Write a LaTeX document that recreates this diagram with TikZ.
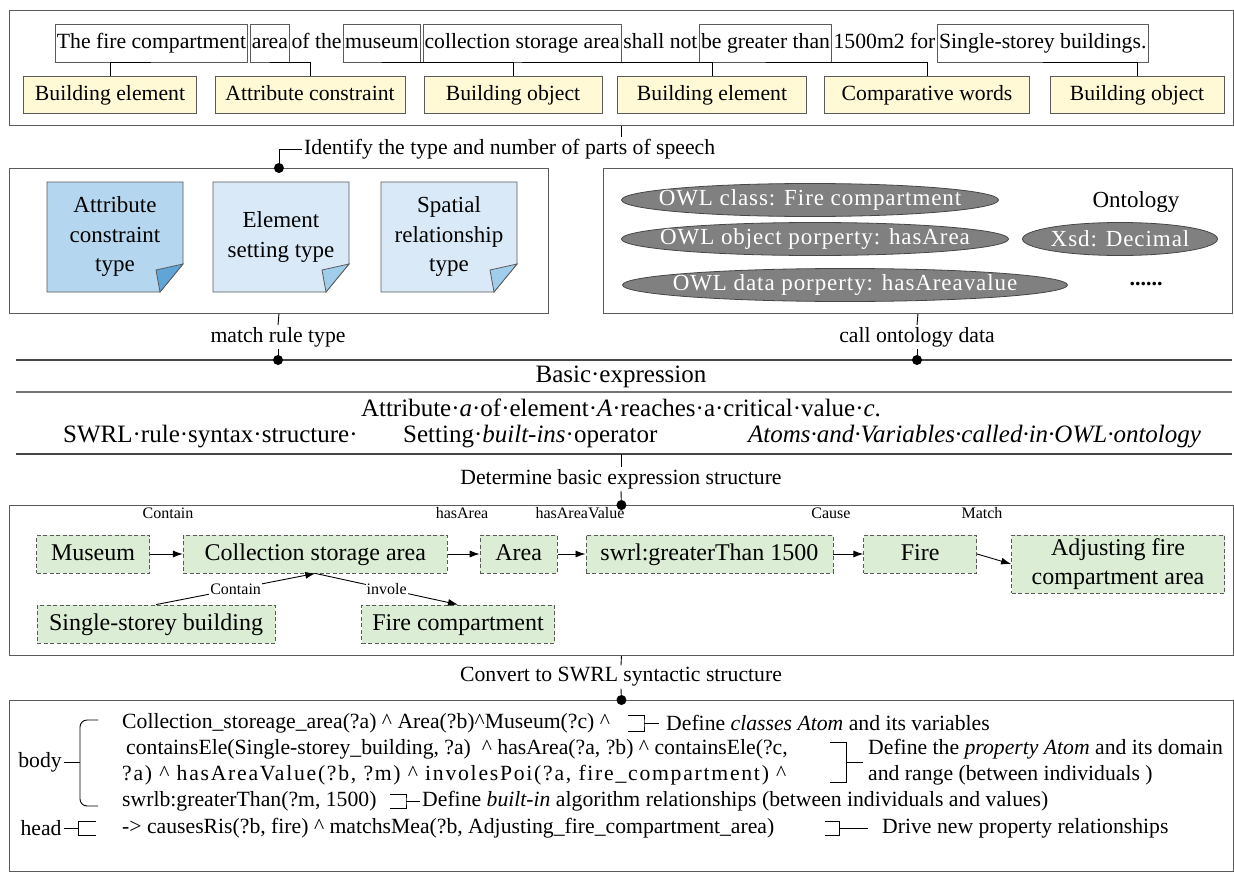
\documentclass[tikz,border=0pt]{standalone}
\usepackage{fontspec}
\setmainfont{Liberation Serif}
\newfontfamily\wideserif[LetterSpace=8]{Liberation Serif}
\newfontfamily\owlserif[LetterSpace=4]{Liberation Serif}
\usetikzlibrary{arrows.meta,shapes,positioning}

\definecolor{framegray}{RGB}{90,90,90}
\definecolor{tagyellow}{RGB}{255,249,214}
\definecolor{notedark}{RGB}{180,214,238}
\definecolor{flapdark}{RGB}{95,165,215}
\definecolor{notelight}{RGB}{218,233,247}
\definecolor{flaplight}{RGB}{160,205,236}
\definecolor{owlgray}{RGB}{128,128,128}
\definecolor{relgreen}{RGB}{219,237,213}
\definecolor{rulegray}{RGB}{70,70,70}

\newcommand{\andsym}{\textasciicircum}
\newcommand{\typenote}[5]{%
  \draw[noteline, fill=#3] (#2,182) -- ++(136,0) -- ++(0,82) -- ++(-23,28) -- ++(-113,0) -- cycle;
  \draw[noteline, fill=#4] (#2+136,264) -- (#2+113,292) -- (#2+109,270) -- cycle;
  \node[notetxt] (#1) at (#2+68,237) {#5};}

\tikzset{
  txt/.style={font=\fontsize{21.7}{26}\selectfont, inner sep=2pt},
  secbox/.style={draw=framegray, line width=0.9pt, inner sep=0pt},
  word/.style={txt, draw=framegray, line width=0.8pt, inner xsep=1.5pt, inner ysep=8.5pt, text height=16pt, text depth=5pt},
  bare/.style={txt, inner xsep=1.5pt, inner ysep=8.5pt, text height=16pt, text depth=5pt},
  postag/.style={txt, draw=framegray, line width=0.8pt, fill=tagyellow, minimum height=37pt, inner xsep=0pt, text height=16pt, text depth=5pt},
  link/.style={line width=0.9pt},
  bullet/.style={fill=black},
  noteline/.style={draw=framegray, line width=0.8pt},
  notetxt/.style={font=\fontsize{23}{29.5}\selectfont, align=center},
  owl/.style={ellipse, draw=rulegray, line width=0.8pt, fill=owlgray, text=white, minimum height=33pt, inner sep=0pt, font=\owlserif\fontsize{23}{27}\selectfont},
  thickrule/.style={line width=2.6pt, draw=rulegray},
  thinrule/.style={line width=1.4pt, draw=rulegray!75},
  tbl/.style={font=\fontsize{25}{30}\selectfont, inner sep=1pt},
  rel/.style={draw=framegray, dash pattern=on 4pt off 2.5pt, line width=0.8pt, fill=relgreen, font=\fontsize{24}{29}\selectfont, minimum height=38pt, align=center, inner xsep=0pt},
  relone/.style={rel, text height=17pt, text depth=5pt},
  edgelbl/.style={font=\fontsize{16}{18}\selectfont, inner sep=1pt},
  flow/.style={line width=0.9pt, -{Latex[length=10pt,width=7pt]}},
  code/.style={txt, anchor=west},
  brk/.style={line width=0.9pt},
}

\begin{document}
\begin{tikzpicture}[x=1pt,y=-1pt]
\useasboundingbox (0,0) rectangle (1234,872);
\fill[white] (0,0) rectangle (1234,872);

\node[secbox, minimum width=1224pt, minimum height=115pt, anchor=north west] (sentbox) at (9,10) {};
\node[word, anchor=west] (w1) at (55,43) {The fire compartment};
\node[word, right=2pt of w1] (w2) {area};
\node[bare, right=0pt of w2] (w3) {of the};
\node[word, right=0pt of w3] (w4) {museum};
\node[word, right=2pt of w4] (w5) {collection storage area};
\node[bare, right=0pt of w5] (w6) {shall not};
\node[word, right=0pt of w6] (w7) {be greater than};
\node[bare, right=0pt of w7] (w8) {1500m2 for};
\node[word, right=0pt of w8] (w9) {Single-storey buildings.};

\node[postag, minimum width=173pt] (t1) at (110,95) {Building element};
\node[postag, minimum width=190pt] (t2) at (310,95) {Attribute constraint};
\node[postag, minimum width=178pt] (t3) at (513,95) {Building object};
\node[postag, minimum width=189pt] (t4) at (712,95) {Building element};
\node[postag, minimum width=205pt] (t5) at (927,95) {Comparative words};
\node[postag, minimum width=174pt] (t6) at (1137,95) {Building object};
\draw[link] (w1.south) -| (t1.north);
\draw[link] (w2.south) -| (t2.north);
\draw[link] (w4.south) -| (t3.north);
\draw[link] (w5.south) -| (t4.north);
\draw[link] (w7.south) -| (t5.north);
\draw[link] (w9.south) -| (t6.north);

\node[txt, anchor=west] (identify) at (302,149) {Identify the type and number of parts of speech};
\node[secbox, minimum width=539pt, minimum height=145pt, anchor=north west] (typebox) at (9,168) {};
\node[secbox, minimum width=629pt, minimum height=145pt, anchor=north west] (ontobox) at (603,168) {};
\draw[link] (sentbox.south) -- (sentbox.south |- identify.north);
\draw[link] (identify.west) -| (typebox.north);
\fill[bullet] (typebox.north) circle (5pt);

\typenote{attrtype}{47}{notedark}{flapdark}{Attribute\\constraint\\type}
\typenote{elemtype}{213}{notelight}{flaplight}{Element\\setting type}
\typenote{spattype}{381}{notelight}{flaplight}{Spatial\\relationship\\type}

\node[owl, minimum width=377pt] (owlclass) at (810,200) {\makebox[0pt]{OWL class: Fire compartment}};
\node[owl, minimum width=387pt] (owlobj) at (815,239) {\makebox[0pt]{OWL object porperty: hasArea}};
\node[owl, minimum width=445pt] (owldata) at (845,285) {\makebox[0pt]{OWL data porperty: hasAreavalue}};
\node[owl, minimum width=195pt] (xsd) at (1120,239) {\makebox[0pt]{Xsd: Decimal}};
\node[font=\fontsize{23}{27}\selectfont] (onto) at (1136,202) {Ontology};
\node[font=\fontsize{22}{26}\selectfont\bfseries] (more) at (1146,284) {......};

\node[txt] (matchtxt) at (278,337) {match rule type};
\node[txt] (calltxt) at (917,337) {call ontology data};
\draw[link] (typebox.south) -- (matchtxt.north);
\draw[link] (ontobox.south) -- (calltxt.north);

\draw[thickrule] (16,360) coordinate (rtop) -- (1232,360);
\draw[thinrule] (16,392) -- (1232,392);
\draw[thickrule] (16,454) coordinate (rbot) -- (1232,454);
\draw[link] (matchtxt.south) -- (matchtxt.south |- rtop);
\draw[link] (calltxt.south) -- (calltxt.south |- rtop);
\fill[bullet] (matchtxt.south |- rtop) circle (5pt);
\fill[bullet] (calltxt.south |- rtop) circle (5pt);
\node[tbl] (basic) at (621,377) {Basic·expression};
\node[tbl] (attr) at (621,408) {Attribute·\textit{a}·of·element·\textit{A}·reaches·a·critical·value·\textit{c}.};
\node[tbl, anchor=west] (swrl) at (62,437) {SWRL·rule·syntax·structure·};
\node[tbl, anchor=west] (setting) at (402,437) {Setting·\textit{built-ins}·operator};
\node[tbl, anchor=west] (atoms) at (747,437) {\textit{Atoms·and·Variables·called·in·OWL·ontology}};

\node[txt] (determine) at (621,479) {Determine basic expression structure};
\node[secbox, minimum width=1224pt, minimum height=150pt, anchor=north west] (relbox) at (9,505) {};
\draw[link] (rbot -| determine) -- (determine.north);
\draw[link] (determine.south) -- (relbox.north);
\fill[bullet] (relbox.north) circle (5pt);

\node[relone, minimum width=113pt] (museum) at (93,554) {Museum};
\node[relone, minimum width=264pt, right=33pt of museum] (storage) {Collection storage area};
\node[relone, minimum width=77pt, right=32pt of storage] (area) {Area};
\node[relone, minimum width=247pt, right=28pt of area] (greater) {swrl:greaterThan 1500};
\node[relone, minimum width=113pt, right=30pt of greater] (fire) {Fire};
\node[rel, minimum width=213pt, minimum height=58pt, anchor=north west] (adjust) at ([xshift=34pt]fire.north east) {Adjusting fire\\compartment area};
\node[relone, minimum width=238pt] (single) at (156,624) {Single-storey building};
\node[relone, minimum width=193pt] (firecomp) at (458,624) {Fire compartment};
\draw[flow] (museum) -- (storage);
\draw[flow] (storage) -- (area);
\draw[flow] (area) -- (greater);
\draw[flow] (greater) -- (fire);
\draw[flow] (fire.east) -- (adjust.west);
\draw[flow] (single.north) -- node[edgelbl, fill=white] (contain2) {Contain} (storage.south);
\draw[flow] (storage.south) -- node[edgelbl, fill=white] (involve) {invole} (firecomp.north);
\node[edgelbl] (contain1) at (168,513) {Contain};
\node[edgelbl] (hasarea) at (462,513) {hasArea};
\node[edgelbl] (hasvalue) at (580,513) {hasAreaValue};
\node[edgelbl] (cause) at (831,513) {Cause};
\node[edgelbl] (match) at (982,513) {Match};

\node[txt] (convert) at (621,677) {Convert to SWRL syntactic structure};
\node[secbox, minimum width=1224pt, minimum height=171pt, anchor=north west] (rulebox) at (9,700) {};
\draw[link] (relbox.south) -- (convert.north);
\draw[link] (convert.south) -- (rulebox.north);
\fill[bullet] (rulebox.north) circle (5pt);

\node[code] (c1) at (120,723) {Collection\_storeage\_area(?a) \andsym{} Area(?b)\andsym{}Museum(?c) \andsym};
\node[code] (c2) at (120,749) {\hspace{4pt}containsEle(Single-storey\_building, ?a)\ \ \andsym{} hasArea(?a, ?b) \andsym{} containsEle(?c,};
\node[code, font=\wideserif\fontsize{21.7}{26}\selectfont] (c3) at (120,775) {?a) \andsym{} hasAreaValue(?b, ?m) \andsym{} involesPoi(?a, fire\_compartment) \andsym};
\node[code] (c4) at (120,801) {swrlb:greaterThan(?m, 1500)};
\node[code] (c5) at (120,828) {-> causesRis(?b, fire) \andsym{} matchsMea(?b, Adjusting\_fire\_compartment\_area)};

\node[txt] (body) at (40,762) {body};
\node[txt] (head) at (41,828) {head};
\draw[brk, rounded corners=7pt] (98,720) -- (80,720) coordinate (bk) -- (80,806) -- (98,806);
\draw[link] (body.east) -- (body.east -| bk);
\draw[brk] (96,821) -- (78,821) coordinate (hk) -- (78,835) -- (96,835);
\draw[link] (head.east) -- (head.east -| hk);

\draw[brk] (628,715) -- (644,715) -- (644,723) coordinate (r1) -- (644,731) -- (628,731);
\node[txt, anchor=west] (d1) at (664,723) {Define \textit{classes Atom} and its variables};
\draw[link] (r1) -- ([xshift=-5pt]d1.west);
\draw[brk] (830,742) -- (846,742) -- (846,762) coordinate (r2) -- (846,782) -- (830,782);
\node[txt, anchor=west] (d2) at (866,749) {Define the \textit{property Atom} and its domain};
\node[txt, anchor=west] (d3) at (866,775) {and range (between individuals )};
\draw[link] (r2) -- ([xshift=-3pt]r2 -| d2.west);
\draw[brk] (390,794) -- (406,794) -- (406,801) coordinate (r3) -- (406,808) -- (390,808);
\node[txt, anchor=west] (d4) at (420,801) {Define \textit{built-in} algorithm relationships (between individuals and values)};
\draw[link] (r3) -- (d4.west);
\draw[brk] (825,821) -- (839,821) -- (839,828) coordinate (r4) -- (839,835) -- (825,835);
\node[txt, anchor=west] (d5) at (880,828) {Drive new property relationships};
\draw[link] (r4) -- ([xshift=-12pt]d5.west);
\end{tikzpicture}
\end{document}
